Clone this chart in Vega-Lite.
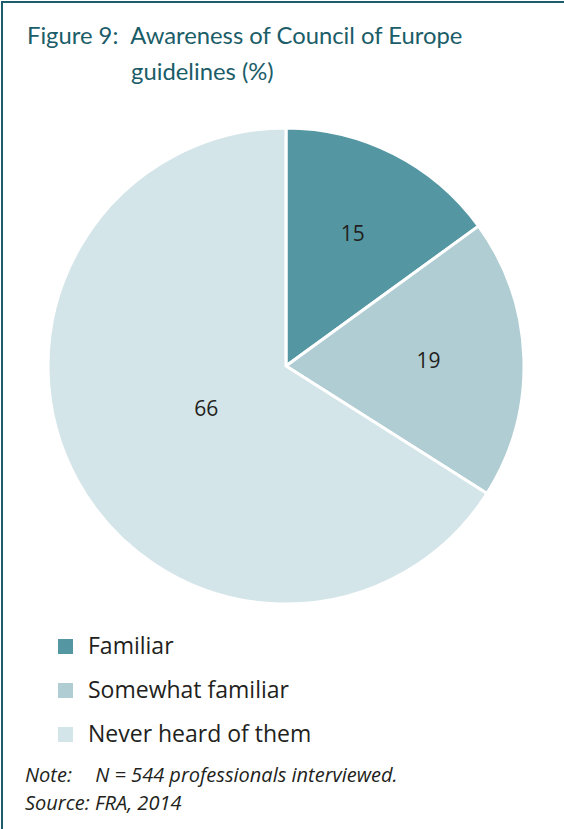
{
  "$schema": "https://vega.github.io/schema/vega-lite/v6.json",
  "padding": {"left": 1, "top": 1, "right": 0, "bottom": 0},
  "background": "white",
  "title": {
    "text": ["Note:\u2003\u2009N = 544 professionals interviewed.", "Source: FRA, 2014"],
    "orient": "bottom",
    "anchor": "start",
    "frame": "group",
    "offset": -67,
    "dx": 23,
    "font": "Open Sans",
    "fontStyle": "italic",
    "fontWeight": "normal",
    "fontSize": 20,
    "lineHeight": 28,
    "color": "#231f20"
  },
  "vconcat": [
    {
      "width": 568,
      "height": 830,
      "view": {"stroke": "#1b5d68", "strokeWidth": 2},
      "title": {
        "text": ["Figure 9:\u2002Awareness of Council of Europe", "\u200b\u2003\u2003\u2003\u2003\u2003\u2002\u2009guidelines (%)"],
        "anchor": "start",
        "frame": "group",
        "orient": "top",
        "baseline": "alphabetic",
        "offset": -102,
        "dx": 25,
        "font": "Lato",
        "fontWeight": "normal",
        "fontSize": 23.8,
        "lineHeight": 36,
        "color": "#1b5d68"
      },
      "data": {
        "values": [
          {"response": "Familiar", "percent": 15, "rank": 1},
          {"response": "Somewhat familiar", "percent": 19, "rank": 2},
          {"response": "Never heard of them", "percent": 66, "rank": 3}
        ]
      },
      "encoding": {
        "theta": {"field": "percent", "type": "quantitative", "stack": true},
        "order": {"field": "rank", "type": "quantitative"}
      },
      "layer": [
        {
          "mark": {"type": "arc", "outerRadius": 238, "stroke": "white", "strokeWidth": 3, "yOffset": -51},
          "encoding": {
            "color": {
              "field": "response",
              "type": "nominal",
              "scale": {
                "domain": ["Familiar", "Somewhat familiar", "Never heard of them"],
                "range": ["#5497a2", "#b0cdd3", "#d4e5e9"]
              },
              "legend": {
                "title": null,
                "orient": "none",
                "legendX": 52,
                "legendY": 633,
                "symbolType": "square",
                "symbolSize": 225,
                "symbolStrokeWidth": 0,
                "labelFont": "Open Sans",
                "labelFontSize": 23,
                "labelColor": "#231f20",
                "labelOffset": 11,
                "rowPadding": 20,
                "labelLimit": 400
              }
            }
          }
        },
        {
          "mark": {"type": "text", "font": "Open Sans", "fontSize": 21, "color": "#231f20", "yOffset": -51},
          "encoding": {
            "radius": {"field": "percent", "type": "quantitative", "scale": {"type": "linear", "zero": false, "domain": [15, 66], "range": [147, 91]}},
            "text": {"field": "percent", "type": "quantitative"}
          }
        }
      ]
    }
  ]
}
